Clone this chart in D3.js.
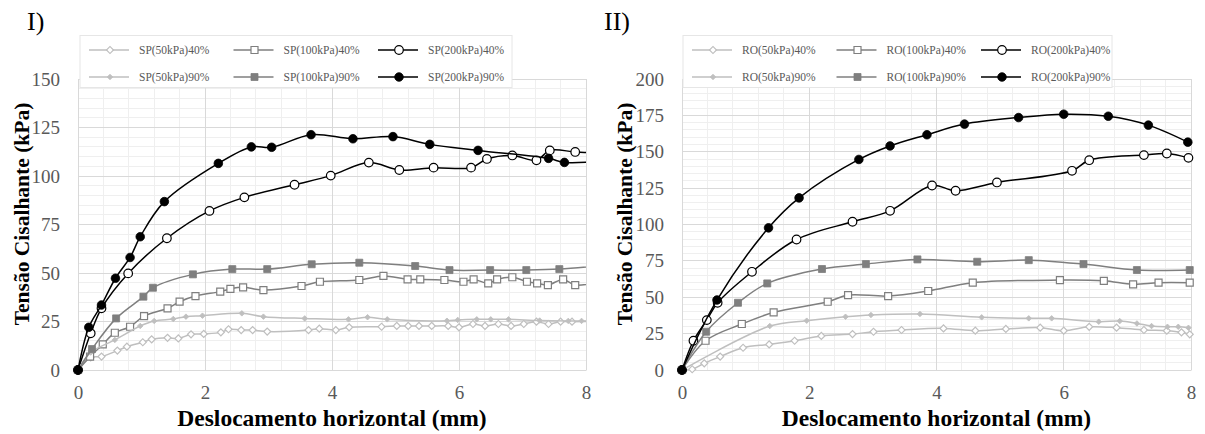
<!DOCTYPE html>
<html><head><meta charset="utf-8">
<script src="https://cdn.jsdelivr.net/npm/d3@7"></script>
<style>body{margin:0;background:#fff}svg{display:block}</style>
</head><body><svg id="c" width="1205" height="434"></svg>
<script>
// ---------- Data (x = mm, y = kPa) ----------
const xTicks = [0, 2, 4, 6, 8];
const yTicksI = [0, 25, 50, 75, 100, 125, 150];
const yTicksII = [0, 25, 50, 75, 100, 125, 150, 175, 200];
const seriesNamesI = ["SP(50kPa)40%", "SP(100kPa)40%", "SP(200kPa)40%", "SP(50kPa)90%", "SP(100kPa)90%", "SP(200kPa)90%"];
const seriesNamesII = ["RO(50kPa)40%", "RO(100kPa)40%", "RO(200kPa)40%", "RO(50kPa)90%", "RO(100kPa)90%", "RO(200kPa)90%"];

const sp50_40 = [[0,0],[0.2,6.5],[0.37,6.9],[0.62,10],[0.77,12],[1.02,14.3],[1.16,15.8],[1.41,16.6],[1.58,16.3],[1.78,18.4],[1.98,18.6],[2.25,19.4],[2.37,21],[2.57,20.6],[2.75,20.6],[2.98,19.8],[3.63,20.6],[3.8,21.3],[4.06,20.6],[4.27,22],[4.78,22.3],[5.02,22.7],[5.2,22.7],[5.37,22.7],[5.57,22.7],[5.83,22.7],[6.0,22],[6.22,23.7],[6.41,22.7],[6.62,23.7],[6.82,22.7],[7.02,23.7],[7.22,24.9],[7.41,23.7],[7.6,24.9],[7.78,24.9],[8.2,25]];
const sp100_40 = [[0,0],[0.19,6.9],[0.39,13.2],[0.58,19.2],[0.82,22.3],[1.04,27.8],[1.41,31.8],[1.6,35.2],[1.85,38.1],[2.24,40.4],[2.4,41.8],[2.6,42.6],[2.92,41.2],[3.52,43.3],[3.81,45.5],[4.43,46.4],[4.81,48.5],[5.19,46.7],[5.39,46.7],[5.77,46.4],[6.07,45.5],[6.23,46.7],[6.46,44.7],[6.6,46.7],[6.84,47.8],[7.07,45.5],[7.23,44.7],[7.4,43.8],[7.64,46.7],[7.83,43.8],[8.2,45.5]];
const sp200_40 = [[0,0],[0.2,18.9],[0.37,31.8],[0.79,49.8],[1.4,67.9],[2.07,82],[2.62,89],[3.41,95.5],[3.98,100.2],[4.58,106.9],[5.06,103.1],[5.6,104.3],[6.19,104.3],[6.44,108.8],[6.84,110.6],[7.22,108.1],[7.43,113.2],[7.83,112.4],[8.2,111.8]];
const sp50_90 = [[0,0],[0.2,9],[0.58,15.5],[0.98,22.7],[1.2,25.3],[1.5,26.3],[1.7,27.5],[1.96,28],[2.58,29.2],[2.92,27.5],[3.57,26.6],[4.26,26.1],[4.56,27.2],[4.87,26.1],[5.81,25.4],[5.98,25.8],[6.28,26.1],[6.5,26.1],[6.78,26.1],[7.27,25.5],[7.72,25.3],[7.93,25.3],[8.2,25.3]];
const sp100_90 = [[0,0],[0.22,10.8],[0.6,26.6],[1.03,37.8],[1.18,42.4],[1.81,49.3],[2.43,52],[2.98,52],[3.68,54.5],[4.43,55.3],[5.31,53.6],[5.85,51.5],[6.49,51.5],[7.06,51.5],[7.58,52],[8.3,54]];
const sp200_90 = [[0,0],[0.17,22],[0.37,33.5],[0.59,47.3],[0.82,58],[0.98,68.7],[1.36,86.8],[2.21,106.5],[2.73,115],[3.05,114.8],[3.67,121.3],[4.33,119.2],[4.96,120.3],[5.54,116.3],[6.3,113.2],[7.41,109.1],[7.66,107],[8.3,107.8]];

const ro50_40 = [[0,0],[0.16,0.5],[0.35,4.6],[0.6,9.2],[0.96,15.3],[1.37,17.6],[1.77,20.1],[2.19,23.4],[2.68,24.7],[3.01,26.3],[3.45,27.5],[4.11,28.6],[4.61,27],[5.09,28.2],[5.63,29.1],[6.0,27],[6.4,29.7],[6.83,29.1],[7.26,27.5],[7.62,27],[7.85,25.9],[7.98,24.5]];
const ro100_40 = [[0,0],[0.37,20.1],[0.94,31.6],[1.44,39.6],[2.29,46.9],[2.61,51.5],[3.24,50.8],[3.87,54.3],[4.57,60],[5.94,61.8],[6.63,61.3],[7.09,58.9],[7.49,60],[7.98,60]];
const ro200_40 = [[0,0],[0.18,20.1],[0.39,34.3],[0.56,46.2],[1.1,67.5],[1.8,89.7],[2.68,101.9],[3.27,109.4],[3.93,126.8],[4.3,123.2],[4.95,128.9],[6.13,136.9],[6.4,144.2],[7.26,147.7],[7.62,148.8],[7.96,145.8]];
const ro50_90 = [[0,0],[1.38,30.2],[1.96,33.9],[2.57,36.6],[2.97,37.8],[3.74,38.5],[4.71,36.2],[5.45,35.5],[5.81,35.5],[6.55,33.2],[6.88,33.6],[7.15,32],[7.38,30.2],[7.63,29.7],[7.8,29.7],[7.96,29]];
const ro100_90 = [[0,0],[0.38,26.3],[0.88,46.2],[1.34,59.5],[2.2,69.4],[2.89,72.8],[3.7,76],[4.64,74.4],[5.45,75.5],[6.31,72.8],[7.15,68.7],[7.98,68.7]];
const ro200_90 = [[0,0],[0.55,48.1],[1.36,97.7],[1.84,118.3],[2.78,144.7],[3.27,154],[3.85,161.7],[4.44,169],[5.29,173.5],[6.0,175.8],[6.7,174.4],[7.33,168.3],[7.95,156.6]];

// ---------- Styles ----------
const FONT = "'Liberation Serif', 'Times New Roman', Tinos, 'DejaVu Serif', serif";
const styles = [
  {color:"#bfbfbf", shape:"diamond", fill:false, size:7},
  {color:"#7f7f7f", shape:"square",  fill:false, size:7},
  {color:"#000000", shape:"circle",  fill:false, size:8.6},
  {color:"#bfbfbf", shape:"diamond", fill:true,  size:5.5},
  {color:"#7f7f7f", shape:"square",  fill:true,  size:7},
  {color:"#000000", shape:"circle",  fill:true,  size:8.6}
];

const svg = d3.select("#c");

function markerPath(st) {
  if (st.shape === "circle") return d3.symbol(d3.symbolCircle, Math.PI * (st.size/2) ** 2)();
  if (st.shape === "square") return d3.symbol(d3.symbolSquare, st.size * st.size)();
  return d3.symbol(d3.symbolSquare, st.size * st.size / 2)();
}
function drawMarker(g, st, x, y) {
  g.append("path").attr("d", markerPath(st))
    .attr("transform", `translate(${x},${y})` + (st.shape === "diamond" ? " rotate(45)" : ""))
    .attr("fill", st.fill ? st.color : "#fff")
    .attr("stroke", st.color).attr("stroke-width", st.fill ? 0.8 : 1.2);
}

function drawChart(cfg) {
  const g = svg.append("g");
  const x = d3.scaleLinear().domain([0, 8]).range([cfg.x0, cfg.x1]);
  const y = d3.scaleLinear().domain([0, cfg.yMax]).range([cfg.y1, cfg.y0]);

  const minorX = d3.range(0, 8.0001, 0.4), minorY = d3.range(0, cfg.yMax + 0.001, 5);
  g.append("g").selectAll("line").data(minorX).join("line")
    .attr("x1", d => x(d)).attr("x2", d => x(d)).attr("y1", cfg.y0).attr("y2", cfg.y1)
    .attr("stroke", "#efefef").attr("stroke-width", 1).attr("shape-rendering", "crispEdges");
  g.append("g").selectAll("line").data(minorY).join("line")
    .attr("y1", d => y(d)).attr("y2", d => y(d)).attr("x1", cfg.x0).attr("x2", cfg.x1)
    .attr("stroke", "#efefef").attr("stroke-width", 1).attr("shape-rendering", "crispEdges");
  g.append("g").selectAll("line").data(xTicks).join("line")
    .attr("x1", d => x(d)).attr("x2", d => x(d)).attr("y1", cfg.y0).attr("y2", cfg.y1)
    .attr("stroke", "#d9d9d9").attr("stroke-width", 1).attr("shape-rendering", "crispEdges");
  g.append("g").selectAll("line").data(cfg.yTicks).join("line")
    .attr("y1", d => y(d)).attr("y2", d => y(d)).attr("x1", cfg.x0).attr("x2", cfg.x1)
    .attr("stroke", "#d9d9d9").attr("stroke-width", 1).attr("shape-rendering", "crispEdges");

  const ax = g.append("g").attr("transform", `translate(0,${cfg.y1})`)
    .call(d3.axisBottom(x).tickValues(xTicks).tickSize(0).tickPadding(16).tickFormat(d3.format("d")));
  ax.attr("font-family", null);
  ax.select(".domain").attr("stroke", "#d9d9d9");
  ax.selectAll("text").style("font-family", FONT).style("font-size", "19px").attr("fill", "#595959");
  const ay = g.append("g").attr("transform", `translate(${cfg.x0},0)`)
    .call(d3.axisLeft(y).tickValues(cfg.yTicks).tickSize(0).tickPadding(18).tickFormat(d3.format("d")));
  ay.attr("font-family", null);
  ay.select(".domain").attr("stroke", "#d9d9d9");
  ay.selectAll("text").style("font-family", FONT).style("font-size", "19px").attr("fill", "#595959");

  const clipId = "clip" + cfg.id;
  svg.append("clipPath").attr("id", clipId).append("rect")
    .attr("x", cfg.x0).attr("y", cfg.y0 - 6).attr("width", cfg.x1 - cfg.x0).attr("height", cfg.y1 - cfg.y0 + 12);

  const line = d3.line().x(d => x(d[0])).y(d => y(d[1])).curve(d3.curveCatmullRom.alpha(0.5));
  cfg.series.forEach((data, i) => {
    const st = styles[i];
    g.append("path").datum(data).attr("d", line).attr("fill", "none")
      .attr("stroke", st.color).attr("stroke-width", 1.5).attr("clip-path", `url(#${clipId})`);
    const mg = g.append("g");
    data.filter(d => d[0] <= 8.01).forEach(d => drawMarker(mg, st, x(d[0]), y(d[1])));
  });

  g.append("text").attr("x", (cfg.x0 + cfg.x1) / 2).attr("y", 426).attr("text-anchor", "middle")
    .style("font-family", FONT).style("font-size", "23.5px").style("font-weight", "bold")
    .attr("fill", "#000").text("Deslocamento horizontal (mm)");
  g.append("text").attr("transform", `translate(${cfg.yTitleX},214) rotate(-90)`)
    .attr("text-anchor", "middle").attr("dominant-baseline", "central")
    .style("font-family", FONT).style("font-size", "21.5px").style("font-weight", "bold")
    .attr("fill", "#000").text("Tensão Cisalhante (kPa)");
  g.append("text").attr("x", cfg.labelX).attr("y", 30)
    .style("font-family", FONT).style("font-size", "26px").attr("fill", "#000").text(cfg.label);

  const lg = g.append("g");
  lg.append("rect").attr("x", cfg.legX).attr("y", 35.5).attr("width", cfg.legW).attr("height", 52)
    .attr("fill", "#fff").attr("stroke", "#e6e6e6").attr("stroke-width", 1);
  cfg.names.forEach((name, i) => {
    const st = styles[i];
    const col = i % 3, row = Math.floor(i / 3);
    const lx = cfg.legX + 9 + col * 144.5, ly = 50 + row * 27;
    lg.append("line").attr("x1", lx).attr("x2", lx + 40).attr("y1", ly).attr("y2", ly)
      .attr("stroke", st.color).attr("stroke-width", 1.5);
    drawMarker(lg, st, lx + 21, ly);
    lg.append("text").attr("x", lx + 50).attr("y", ly).attr("dominant-baseline", "central")
      .style("font-family", FONT).style("font-size", "11.5px").attr("fill", "#595959").text(name);
  });
}

drawChart({id: "I", x0: 78, x1: 586, y0: 79, y1: 370, yMax: 150, yTicks: yTicksI,
  series: [sp50_40, sp100_40, sp200_40, sp50_90, sp100_90, sp200_90], names: seriesNamesI,
  yTitleX: 22, label: "I)", labelX: 27, legX: 80, legW: 432});
drawChart({id: "II", x0: 682, x1: 1191, y0: 79, y1: 370, yMax: 200, yTicks: yTicksII,
  series: [ro50_40, ro100_40, ro200_40, ro50_90, ro100_90, ro200_90], names: seriesNamesII,
  yTitleX: 625, label: "II)", labelX: 604, legX: 683, legW: 429});
</script></body></html>
